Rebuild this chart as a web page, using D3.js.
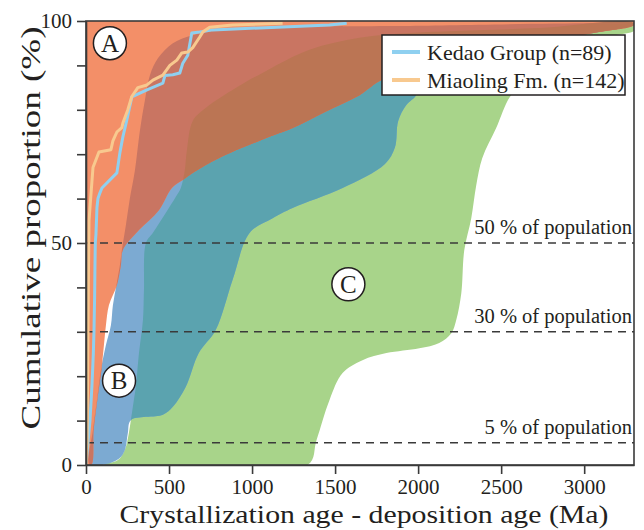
<!DOCTYPE html>
<html lang="en">
<head>
<meta charset="utf-8">
<style>
  body { margin: 0; background: #fff; }
  svg text { font-family: "Liberation Serif", "Times New Roman", Times, serif !important; fill: #231f20; }
</style>
</head>
<body>
<script src="https://d3js.org/d3.v7.min.js"></script>
<div id="chart"></div>
<script>
// ---- data: [crystallization age - deposition age (Ma), cumulative proportion (%)] ----

// field A (convergent) : upper-left envelope
var fieldA = [
    [0, 0], [32, 0], [46, 7.9], [68, 14.6], [93, 21.4], [108, 27], [120, 31.5], [138, 36],
    [186, 40.5], [210, 45], [222, 48.4], [319, 52.9], [439, 57.4], [517, 62.4], [583, 64.2],
    [661, 66.2], [799, 69.1], [1082, 73.6], [1244, 75.9], [1448, 79.7], [1647, 83.3],
    [1779, 86.7], [2067, 89.9], [2608, 94.6], [3089, 97.5], [3300, 99.1], [3300, 100], [0, 100]
];
// field B (collisional)
var fieldB = [
    [24, 0], [42, 7.9], [66, 14.6], [90, 21.4], [120, 27], [150, 31.5], [162, 36], [183, 40.5],
    [204, 45], [216, 48.4], [240, 54], [264, 60], [294, 66.2], [325, 75.4], [355, 82.2],
    [385, 87.8], [433, 91.6], [523, 95], [643, 96.8], [799, 97.9], [1082, 98.6], [1887, 98.9],
    [3300, 99.1],
    [3089, 97.5], [2608, 94.6], [2067, 89.9], [1989, 83.3], [1929, 81.1], [1880, 77.5],
    [1860, 71.5], [1800, 67.8], [1545, 62.4], [1244, 57.9], [1124, 55.6], [986, 52.3],
    [883, 41.7], [781, 30.4], [679, 25.2], [601, 17.6], [523, 13.1], [463, 11.3], [270, 10.1],
    [252, 7.2], [234, 3.4], [198, 1.4], [120, 0.2]
];
// field C (extensional)
var fieldC = [
    [108, 0], [192, 1.1], [234, 3.4], [258, 7.2], [270, 10.1], [288, 14.6], [300, 17.6],
    [319, 25.2], [343, 32.7], [349, 39.4], [361, 50], [403, 52.3], [481, 56.8], [541, 60.4],
    [571, 62.4], [595, 66.4], [607, 70.7], [643, 77.5], [721, 80.4], [901, 84.9], [1082, 88.7],
    [1346, 93.5], [1647, 96.2], [1947, 97.3], [2188, 97.7], [2729, 98.4], [3300, 99.5],
    [3300, 97.8], [3170, 96.6], [2848, 90.7], [2668, 86.7], [2560, 83.3], [2470, 75.9],
    [2386, 69.1], [2350, 63], [2320, 55.6], [2278, 48.4], [2260, 38.7], [2230, 32.7],
    [2200, 29.7], [2127, 27.5], [2007, 26.3], [1809, 25.2], [1665, 23.6], [1545, 20.7],
    [1466, 14.6], [1388, 5.6], [1334, 0]
];

// cumulative curves of the two samples
var kedao = [
    [0, 0], [12, 5], [24, 10], [36, 18], [44, 25], [48, 30], [52, 38], [54, 45], [56, 50],
    [60, 52], [66, 58], [72, 60], [84, 61.3], [96, 62.4], [186, 65.8], [204, 70.3], [222, 73.9],
    [246, 77.7], [276, 82.9], [367, 84.5], [463, 86], [475, 87.7], [523, 87.9], [565, 88.3],
    [583, 90.5], [613, 92.3], [637, 97.3], [685, 97.5], [763, 98], [1466, 99.1], [1570, 99.5]
];
var miaoling = [
    [0, 0], [6, 5], [10, 20], [14, 40], [18, 55], [28, 60], [42, 67], [78, 70.5], [150, 71],
    [162, 73], [186, 75], [216, 76], [222, 77], [252, 80], [276, 83], [312, 85], [367, 85.6],
    [403, 86.7], [463, 87.8], [505, 90], [547, 91.2], [577, 92.8], [613, 93], [643, 94],
    [685, 96.4], [703, 97.5], [745, 98.6], [883, 99.1], [1184, 99.5]
];

var popLevels = [50, 30, 5];
var xTicks = [0, 500, 1000, 1500, 2000, 2500, 3000];
var yTicks = [0, 10, 20, 30, 40, 50, 60, 70, 80, 90, 100];
var yLabels = [0, 50, 100];
var fieldLabels = [
    { name: "A", age: 144, pct: 95 },
    { name: "B", age: 199, pct: 19 },
    { name: "C", age: 1580, pct: 40.7 }
];
var series = [
    { name: "Kedao Group (n=89)", color: "#8fd0f0", values: kedao },
    { name: "Miaoling Fm. (n=142)", color: "#f8c98f", values: miaoling }
];

// colours of the fields and their overlaps
var cGreen = "#a8d48a", cBlue = "#7caad2", cTeal = "#5ba3af",
    cOrange = "#f38f68", cRed = "#c97562", cBrown = "#bb7554";

var width = 644, height = 530;

var x = d3.scaleLinear().domain([0, 3300]).range([86, 634]);
var y = d3.scaleLinear().domain([0, 100]).range([465, 21]);

var svg = d3.select("#chart")
    .append("svg")
    .attr("width", width)
    .attr("height", height);

var line = d3.line()
    .x(function (d) { return x(d[0]); })
    .y(function (d) { return y(d[1]); });

// smooth closed outline for the fields
var area = d3.line()
    .x(function (d) { return x(d[0]); })
    .y(function (d) { return y(d[1]); })
    .curve(d3.curveCatmullRomClosed.alpha(0.5));

function poly(pts) { return area(pts); }

// clip paths for the plot area and the field overlaps
var defs = svg.append("defs");
defs.append("clipPath").attr("id", "plotClip")
    .append("rect")
    .attr("x", x(0)).attr("y", y(100))
    .attr("width", x(3300) - x(0)).attr("height", y(0) - y(100));
defs.append("clipPath").attr("id", "clipB").append("path").attr("d", poly(fieldB));
defs.append("clipPath").attr("id", "clipC").append("path").attr("d", poly(fieldC));

var fields = svg.append("g").attr("clip-path", "url(#plotClip)");

fields.append("path").attr("d", poly(fieldC)).attr("fill", cGreen);
fields.append("path").attr("d", poly(fieldB)).attr("fill", cBlue);
fields.append("path").attr("d", poly(fieldB)).attr("clip-path", "url(#clipC)").attr("fill", cTeal);
fields.append("path").attr("d", poly(fieldA)).attr("fill", cOrange);
fields.append("path").attr("d", poly(fieldA)).attr("clip-path", "url(#clipC)").attr("fill", cBrown);
fields.append("g").attr("clip-path", "url(#clipB)")
    .append("path").attr("d", poly(fieldA)).attr("fill", cRed);
fields.append("g").attr("clip-path", "url(#clipB)")
    .append("path").attr("d", poly(fieldA)).attr("clip-path", "url(#clipC)").attr("fill", cBrown);

// dashed population lines
svg.selectAll(".pop")
    .data(popLevels)
    .enter()
    .append("line")
    .attr("x1", x(0)).attr("x2", x(3300))
    .attr("y1", function (d) { return y(d); })
    .attr("y2", function (d) { return y(d); })
    .attr("stroke", "#3a3a3a")
    .attr("stroke-width", 1.6)
    .attr("stroke-dasharray", "8,6");

svg.selectAll(".popLabel")
    .data(popLevels)
    .enter()
    .append("text")
    .attr("x", 632)
    .attr("y", function (d) { return y(d) - 9; })
    .attr("text-anchor", "end")
    .style("font-size", "20.5px")
    .text(function (d) { return d + " % of population"; });

// sample curves
svg.append("g").attr("clip-path", "url(#plotClip)")
    .selectAll("path")
    .data(series)
    .enter()
    .append("path")
    .attr("d", function (d) { return line(d.values); })
    .attr("fill", "none")
    .attr("stroke", function (d) { return d.color; })
    .attr("stroke-width", 3)
    .attr("stroke-linejoin", "round");

// circled field labels
var fl = svg.selectAll(".fl")
    .data(fieldLabels)
    .enter()
    .append("g")
    .attr("transform", function (d) { return "translate(" + x(d.age) + "," + y(d.pct) + ")"; });
fl.append("circle")
    .attr("r", 16.5)
    .attr("fill", "#fff")
    .attr("stroke", "#231f20")
    .attr("stroke-width", 1.5);
fl.append("text")
    .attr("text-anchor", "middle")
    .attr("dy", "0.35em")
    .style("font-size", "25px")
    .text(function (d) { return d.name; });

// frame
svg.append("rect")
    .attr("x", x(0)).attr("y", y(100))
    .attr("width", x(3300) - x(0)).attr("height", y(0) - y(100))
    .attr("fill", "none")
    .attr("stroke", "#3a3a3a")
    .attr("stroke-width", 1.6);

// axes
var xAxis = svg.append("g")
    .attr("transform", "translate(0," + y(0) + ")")
    .call(d3.axisBottom(x).tickValues(xTicks).tickSize(9).tickSizeOuter(0).tickPadding(5)
        .tickFormat(d3.format("d")));
var yAxis = svg.append("g")
    .attr("transform", "translate(" + x(0) + ",0)")
    .call(d3.axisLeft(y).tickValues(yTicks).tickSize(9).tickSizeOuter(0).tickPadding(5)
        .tickFormat(function (d) { return yLabels.indexOf(d) >= 0 ? d : ""; }));
[xAxis, yAxis].forEach(function (a) {
    a.select(".domain").attr("stroke", "#3a3a3a").attr("stroke-width", 1.6);
    a.selectAll(".tick line").attr("stroke", "#3a3a3a").attr("stroke-width", 1.6);
    a.selectAll(".tick text")
        .style("font-size", "21px")
        .attr("fill", "#231f20");
});

// axis titles
svg.append("text")
    .attr("x", 364)
    .attr("y", 523)
    .attr("text-anchor", "middle")
    .attr("textLength", 489)
    .attr("lengthAdjust", "spacingAndGlyphs")
    .style("font-size", "26px")
    .text("Crystallization age - deposition age (Ma)");
svg.append("text")
    .attr("transform", "translate(40,228) rotate(-90)")
    .attr("text-anchor", "middle")
    .attr("textLength", 403)
    .attr("lengthAdjust", "spacingAndGlyphs")
    .style("font-size", "28px")
    .text("Cumulative proportion (%)");

// legend
var legend = svg.append("g").attr("transform", "translate(382,35)");
legend.append("rect")
    .attr("width", 243).attr("height", 60)
    .attr("fill", "#fff")
    .attr("stroke", "#231f20")
    .attr("stroke-width", 1.5);
var li = legend.selectAll(".li")
    .data(series)
    .enter()
    .append("g")
    .attr("transform", function (d, i) { return "translate(0," + (17 + i * 28) + ")"; });
li.append("line")
    .attr("x1", 10).attr("x2", 38)
    .attr("stroke", function (d) { return d.color; })
    .attr("stroke-width", 4);
li.append("text")
    .attr("x", 45)
    .attr("dy", "0.35em")
    .style("font-size", "22px")
    .text(function (d) { return d.name; });
</script>
</body>
</html>
